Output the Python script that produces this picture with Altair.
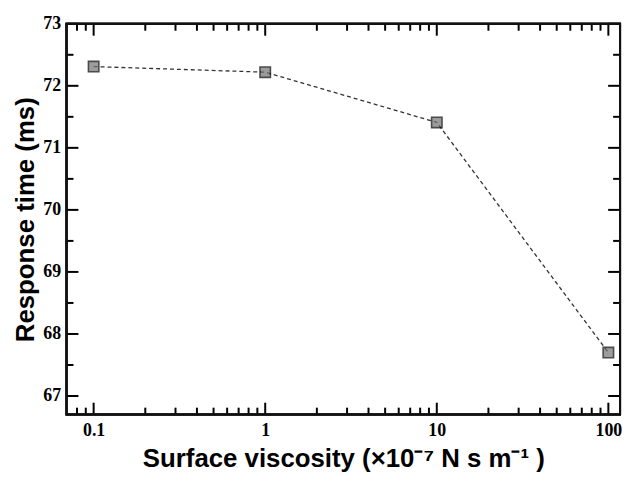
import altair as alt
import pandas as pd

# ---- data ----
viscosity = [0.1, 1, 10, 100]
response_time = [72.31, 72.22, 71.41, 67.70]

x_major = [0.1, 1, 10, 100]
x_minor = [0.08, 0.09,
           0.2, 0.3, 0.4, 0.5, 0.6, 0.7, 0.8, 0.9,
           2, 3, 4, 5, 6, 7, 8, 9,
           20, 30, 40, 50, 60, 70, 80, 90]
y_major = [67, 68, 69, 70, 71, 72, 73]
y_minor = [67.5, 68.5, 69.5, 70.5, 71.5, 72.5]

W, H = 558, 394
MAJ, MIN = 12, 7

df = pd.DataFrame({"x": viscosity, "y": response_time})
dxM = pd.DataFrame({"x": x_major})
dxm = pd.DataFrame({"x": x_minor})
dyM = pd.DataFrame({"y": y_major})
dym = pd.DataFrame({"y": y_minor})

xscale = alt.Scale(type="log", domain=[0.0695, 117], nice=False)
yscale = alt.Scale(domain=[66.7, 73], zero=False, nice=False)

XTITLE = "Surface viscosity (×10⁻⁷ N s m⁻¹ )"
YTITLE = "Response time (ms)"

xaxis = alt.Axis(values=x_major, format="~g", ticks=False, grid=False, domain=False,
                 labelPadding=7, titlePadding=6, title=XTITLE,
                 labelFont="Liberation Serif", labelFontWeight="bold", labelFontSize=18, labelColor="black",
                 titleFont="Liberation Sans", titleFontWeight="bold", titleFontSize=26, titleColor="black")
yaxis = alt.Axis(values=y_major, format="d", ticks=False, grid=False, domain=False,
                 labelPadding=6, titlePadding=4, title=YTITLE,
                 labelFont="Liberation Serif", labelFontWeight="bold", labelFontSize=18, labelColor="black",
                 titleFont="Liberation Sans", titleFontWeight="bold", titleFontSize=26, titleColor="black")

X = alt.X("x:Q", scale=xscale, axis=xaxis, title=XTITLE)
Y = alt.Y("y:Q", scale=yscale, axis=yaxis, title=YTITLE)

line = alt.Chart(df).mark_line(color="#333333", strokeWidth=1.3, strokeDash=[4, 3]).encode(x=X, y=Y)
pts = alt.Chart(df).mark_point(shape="square", filled=True, size=110, fill="#737373",
                               stroke="#000000", strokeWidth=1.6).encode(x=X, y=Y)


def xticks(d, L):
    bot = alt.Chart(d).mark_rule(color="#000000", strokeWidth=2).encode(
        x=X, y=alt.value(H), y2=alt.value(H - L))
    top = alt.Chart(d).mark_rule(color="#000000", strokeWidth=2).encode(
        x=X, y=alt.value(0), y2=alt.value(L))
    return [bot, top]


def yticks(d, L):
    left = alt.Chart(d).mark_rule(color="#000000", strokeWidth=2).encode(
        y=Y, x=alt.value(0), x2=alt.value(L))
    right = alt.Chart(d).mark_rule(color="#000000", strokeWidth=2).encode(
        y=Y, x=alt.value(W), x2=alt.value(W - L))
    return [left, right]


frame = alt.Chart(df).mark_rect(filled=False, stroke="#111111", strokeWidth=2).encode(
    x=alt.value(0), x2=alt.value(W), y=alt.value(0), y2=alt.value(H))

layers = ([line, pts] + xticks(dxM, MAJ) + xticks(dxm, MIN)
          + yticks(dyM, MAJ) + yticks(dym, MIN) + [frame])

chart = alt.layer(*layers).properties(width=W, height=H).configure_view(strokeWidth=0)

chart.save("out.html", embed_options={"renderer": "svg", "actions": False})
